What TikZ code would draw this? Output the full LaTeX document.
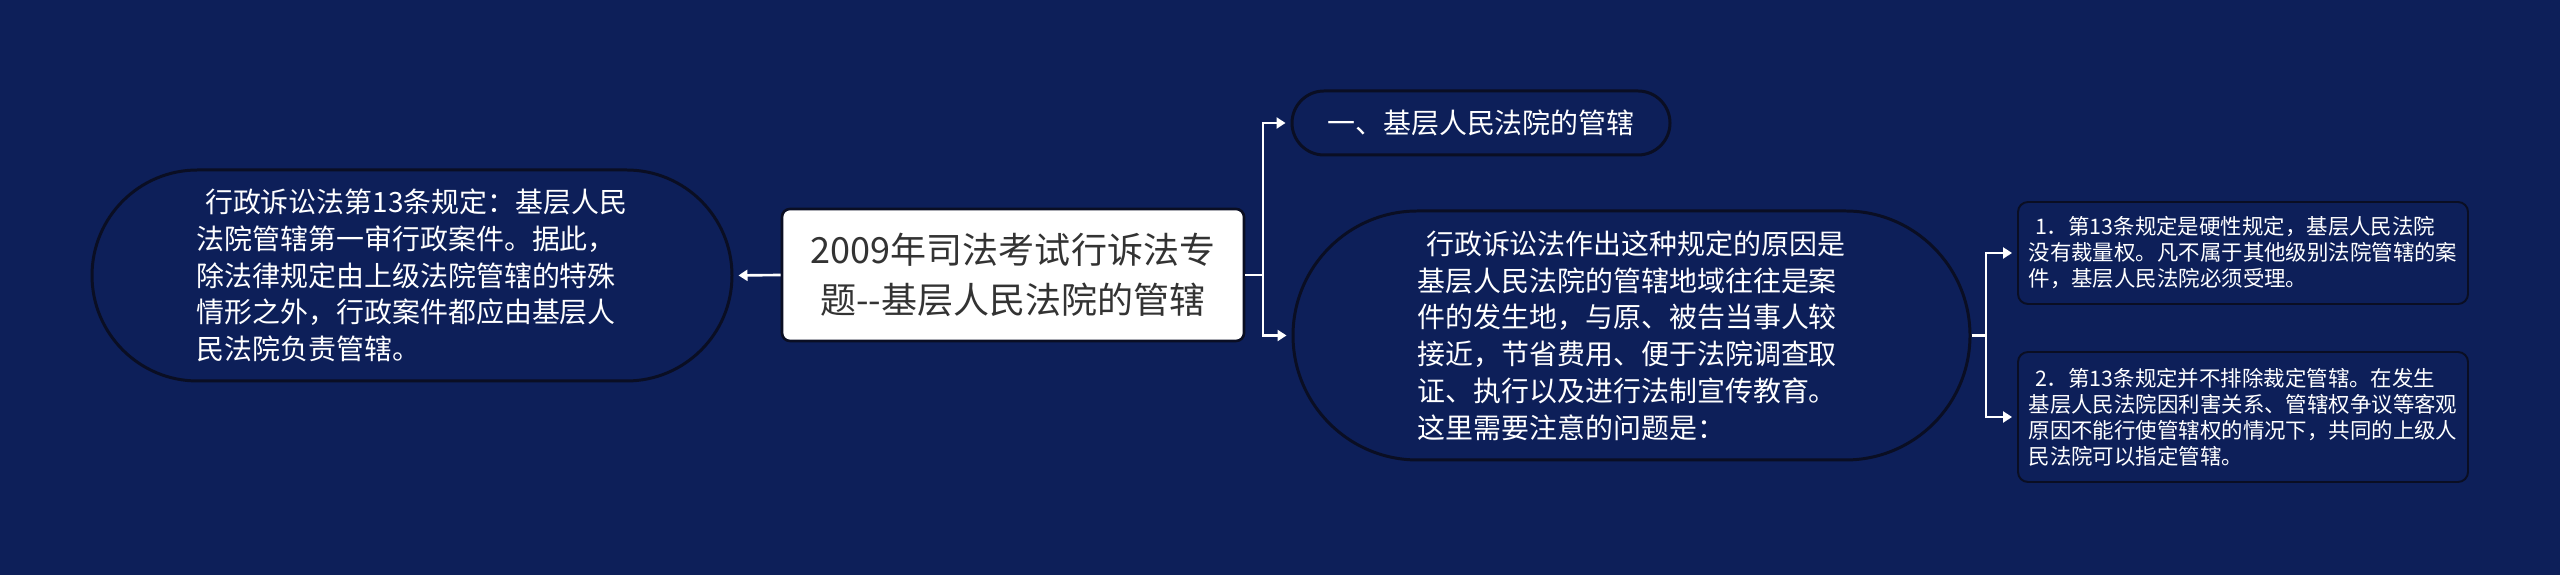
\documentclass[tikz,border=0pt]{standalone}
\usepackage{fontspec}
\setmainfont{Noto Sans CJK SC}
\usetikzlibrary{arrows.meta}

\definecolor{grund}{RGB}{13,31,89}
\definecolor{rand}{RGB}{10,14,35}
\definecolor{schrift}{RGB}{51,51,51}

\begin{document}
\begin{tikzpicture}[
    pille/.style={draw=rand, line width=1.7pt, fill=grund, text=white, align=left, inner sep=0pt},
    kasten/.style={draw=rand, line width=1.1pt, fill=grund, text=white, align=left, inner sep=0pt,
        rounded corners=0.2cm, minimum width=9.0cm, font=\fontsize{12.2}{14.8}\selectfont},
    linie/.style={white, line width=1.5pt},
    pfeil/.style={linie, -{Triangle[length=0.18cm,width=0.22cm]}, shorten >=0.1cm}
]

        % Hintergrund
        \fill[grund] (0,0) rectangle (51.2,11.5);

        % Thema
        \begin{scope}
            \node[draw=rand, line width=1.5pt, fill=white, text=schrift, rounded corners=0.16cm,
                minimum width=9.24cm, minimum height=2.64cm, align=center,
                font=\fontsize{20.5}{28.5}\selectfont] (thema) at (20.26,6.00)
                {2009年司法考试行诉法专\\题-\kern0pt-基层人民法院的管辖};
        \end{scope}

        % Links
        \begin{scope}
            \node[pille, minimum width=12.8cm, minimum height=4.22cm, rounded corners=2.11cm,
                font=\fontsize{15.9}{20.9}\selectfont] (regel) at (8.24,5.99)
                {\hspace*{0.3em}行政诉讼法第13条规定：基层人民\\
                 法院管辖第一审行政案件。据此，\\
                 除法律规定由上级法院管辖的特殊\\
                 情形之外，行政案件都应由基层人\\
                 民法院负责管辖。};
        \end{scope}

        % Rechts
        \begin{scope}
            \node[pille, minimum width=7.56cm, minimum height=1.28cm, rounded corners=0.64cm,
                font=\fontsize{15.9}{20.9}\selectfont] (titel) at (29.62,9.04)
                {一、基层人民法院的管辖};

            \node[pille, minimum width=13.54cm, minimum height=4.98cm, rounded corners=2.49cm,
                font=\fontsize{15.9}{20.9}\selectfont] (ursache) at (32.63,4.79)
                {\hspace*{0.3em}行政诉讼法作出这种规定的原因是\\
                 基层人民法院的管辖地域往往是案\\
                 件的发生地，与原、被告当事人较\\
                 接近，节省费用、便于法院调查取\\
                 证、执行以及进行法制宣传教育。\\
                 这里需要注意的问题是：};

            \node[kasten, minimum height=2.04cm] (punkt1) at (44.86,6.44)
                {\hspace*{0.3em}1．第13条规定是硬性规定，基层人民法院\\
                 没有裁量权。凡不属于其他级别法院管辖的案\\
                 件，基层人民法院必须受理。};

            \node[kasten, minimum height=2.6cm] (punkt2) at (44.86,3.16)
                {\hspace*{0.3em}2．第13条规定并不排除裁定管辖。在发生\\
                 基层人民法院因利害关系、管辖权争议等客观\\
                 原因不能行使管辖权的情况下，共同的上级人\\
                 民法院可以指定管辖。};
        \end{scope}

        % Verbindungen
        \begin{scope}
            \coordinate (gabel1) at (25.26,6.00);
            \coordinate (gabel2) at (39.72,4.79);

            \draw[pfeil] (thema.west) -- (regel.east);
            \draw[pfeil] (thema.east) -- (gabel1) |- (titel.west);
            \draw[pfeil] (gabel1) |- (ursache.west);
            \draw[pfeil] (ursache.east) -- (gabel2) |- (punkt1.west);
            \draw[pfeil] (gabel2) |- (punkt2.west);
        \end{scope}
    \end{tikzpicture}
\end{document}
